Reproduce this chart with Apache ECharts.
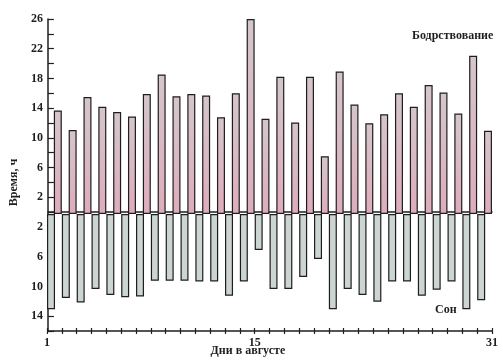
<!DOCTYPE html>
<html>
<head>
<meta charset="utf-8">
<script src="https://cdn.jsdelivr.net/npm/echarts@6/dist/echarts.min.js"></script>
<style>
html,body{margin:0;padding:0;background:#fff;}
#chart{width:503px;height:362px;}
</style>
</head>
<body>
<div id="chart"></div>
<script>
// Day intervals (one pair of bars per day)
const days = ['1','2','3','4','5','6','7','8','9','10','11','12','13','14','15','16','17','18','19','20','21','22','23','24','25','26','27','28','29','30'];
// Hours awake (upper bars)
const wakeHours = [13.8, 11.2, 15.6, 14.3, 13.6, 13.0, 16.0, 18.6, 15.7, 16.0, 15.8, 12.9, 16.1, 26.0, 12.7, 18.3, 12.2, 18.3, 7.7, 19.0, 14.6, 12.1, 13.3, 16.1, 14.3, 17.2, 16.2, 13.4, 21.1, 11.1];
// Hours asleep (lower bars)
const sleepHours = [12.7, 11.2, 11.8, 10.0, 10.8, 11.1, 11.0, 8.9, 8.9, 8.9, 9.0, 9.0, 10.9, 9.0, 4.8, 10.0, 10.0, 8.4, 6.0, 12.7, 10.0, 10.8, 11.7, 9.0, 9.0, 10.9, 10.1, 9.0, 12.7, 11.5];
// Tick labels
const xTickLabels = [1, 15, 31];
const yTickLabels = [26, 22, 18, 14, 10, 6, 2];
const yTickLabelsBelow = [2, 6, 10, 14];

const FONT = 'Liberation Serif';
const INK = '#1e1e1e';

const chart = echarts.init(document.getElementById('chart'), null, {renderer: 'canvas'});
const option = {
  backgroundColor: '#ffffff',
  animation: false,
  textStyle: {fontFamily: FONT},
  grid: [
    {left: 47, right: 11, top: 19, bottom: 28},
    {left: 35, right: 11, top: 19, bottom: 28}
  ],
  xAxis: [
    {type: 'category', gridIndex: 0, data: days, show: false, boundaryGap: true},
    {type: 'value', gridIndex: 0, min: 1, max: 31, interval: 1, position: 'bottom',
      axisLine: {show: false, onZero: false},
      axisTick: {show: true, inside: true, length: 6, lineStyle: {color: INK, width: 1.2}},
      axisLabel: {show: true, margin: 3, fontFamily: FONT, fontSize: 12, fontWeight: 'bold', color: INK,
        formatter: v => xTickLabels.indexOf(v) >= 0 ? String(v) : ''},
      splitLine: {show: false}
    },
    {type: 'value', gridIndex: 1, min: 0, max: 1, position: 'bottom',
      axisLine: {show: true, onZero: false, lineStyle: {color: INK, width: 1.5}},
      axisTick: {show: false}, axisLabel: {show: false}, splitLine: {show: false},
      name: 'Дни в августе', nameLocation: 'middle', nameGap: 14,
      nameTextStyle: {fontFamily: FONT, fontSize: 12, fontWeight: 'bold', color: INK, padding: [0, 44, 0, 0]}
    },
    {type: 'value', gridIndex: 1, min: 0, max: 1, position: 'bottom',
      axisLine: {show: true, onZero: true, lineStyle: {color: INK, width: 1.5}},
      axisTick: {show: false}, axisLabel: {show: false}, splitLine: {show: false}
    }
  ],
  yAxis: [
    {type: 'value', gridIndex: 0, min: -16, max: 26, interval: 2, show: false},
    {type: 'value', gridIndex: 1, min: -16, max: 26, interval: 2,
      axisLine: {show: true, onZero: false, lineStyle: {color: INK, width: 1.5}},
      axisTick: {show: true, inside: true, length: 6, lineStyle: {color: INK, width: 1.2}},
      axisLabel: {margin: 5, fontFamily: FONT, fontSize: 12, fontWeight: 'bold', color: INK,
        formatter: v => {
          if (v > 0 && yTickLabels.indexOf(v) >= 0) return String(v);
          if (v < 0 && yTickLabelsBelow.indexOf(-v) >= 0) return String(-v);
          return '';
        }},
      splitLine: {show: false},
      name: 'Время, ч', nameLocation: 'middle', nameRotate: 90, nameGap: 17,
      nameTextStyle: {fontFamily: FONT, fontSize: 12, fontWeight: 'bold', color: INK, padding: [0, 15, 0, 0]}
    }
  ],
  series: [
    {name: 'Сон', type: 'bar', xAxisIndex: 0, yAxisIndex: 0,
      data: sleepHours.map(v => -v), barWidth: 8, barGap: '-15%',
      itemStyle: {color: '#ccd5d1', borderColor: INK, borderWidth: 1.2}
    },
    {name: 'Бодрствование', type: 'bar', xAxisIndex: 0, yAxisIndex: 0,
      data: wakeHours, barWidth: 8, barGap: '-15%',
      itemStyle: {
        color: new echarts.graphic.LinearGradient(0, 0, 0, 1, [
          {offset: 0, color: '#d5c6ca'},
          {offset: 1, color: '#deacbb'}
        ]),
        borderColor: INK, borderWidth: 1.2
      }
    }
  ],
  graphic: [
    {type: 'text', left: 412, top: 30,
      style: {text: 'Бодрствование', font: 'bold 12px "Liberation Serif"', fill: INK}},
    {type: 'text', left: 435, top: 304,
      style: {text: 'Сон', font: 'bold 12px "Liberation Serif"', fill: INK}}
  ]
};
chart.setOption(option);
</script>
</body>
</html>
